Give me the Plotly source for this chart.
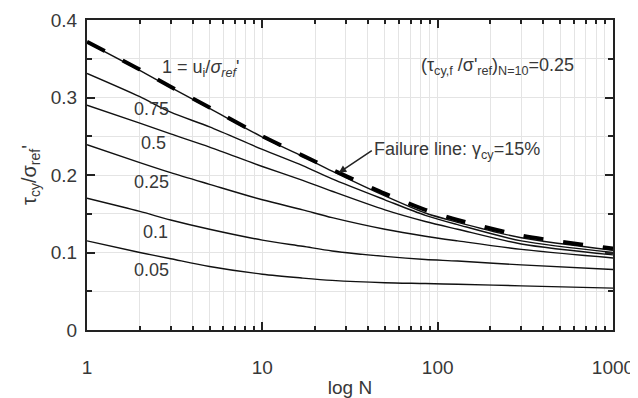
import plotly.graph_objects as go

# Number of cycles
N = [1, 2, 3, 5, 10, 17, 25, 50, 85, 130, 300, 1000]

# tau_cy / sigma'_ref curves for u_i/sigma'_ref values
failure = [0.372, 0.336, 0.314, 0.287, 0.250, 0.225, 0.207, 0.176, 0.155, 0.142, 0.122, 0.105]
u100 = [0.371, 0.335, 0.313, 0.286, 0.249, 0.224, 0.205, 0.173, 0.151, 0.139, 0.119, 0.103]
u075 = [0.331, 0.301, 0.281, 0.262, 0.233, 0.212, 0.195, 0.168, 0.148, 0.136, 0.115, 0.100]
u050 = [0.290, 0.267, 0.253, 0.236, 0.211, 0.193, 0.179, 0.155, 0.140, 0.130, 0.111, 0.097]
u025 = [0.239, 0.216, 0.203, 0.188, 0.168, 0.155, 0.145, 0.130, 0.121, 0.115, 0.104, 0.093]
u010 = [0.170, 0.153, 0.142, 0.130, 0.116, 0.108, 0.102, 0.095, 0.091, 0.089, 0.084, 0.078]
u005 = [0.115, 0.100, 0.092, 0.082, 0.072, 0.067, 0.064, 0.061, 0.060, 0.059, 0.057, 0.054]

curve_labels = ["1 = u<sub>i</sub>/<i>σ</i><sub><i>ref</i></sub>'", "0.75", "0.5", "0.25", "0.1", "0.05"]
label_x = [0.65, 0.365, 0.38, 0.365, 0.39, 0.37]
label_y = [0.338, 0.285, 0.241, 0.191, 0.127, 0.078]

x_ticks = [1, 10, 100, 1000]
x_ticktext = ["1", "10", "100", "1000"]
y_ticks = [0, 0.1, 0.2, 0.3, 0.4]
y_ticktext = ["0", "0.1", "0.2", "0.3", "0.4"]

FONT = "Liberation Sans, Arial, sans-serif"
TXT = "#383838"

fig = go.Figure()
for ys in [u100, u075, u050, u025, u010, u005]:
    fig.add_trace(go.Scatter(x=N, y=ys, mode="lines",
                             line=dict(color="#111", width=1.4, shape="spline", smoothing=0.8),
                             showlegend=False, hoverinfo="skip"))
fig.add_trace(go.Scatter(x=N, y=failure, mode="lines",
                         line=dict(color="black", width=4, dash="20px,20px", shape="spline", smoothing=0.8),
                         showlegend=False, hoverinfo="skip"))

for t, lx, ly in zip(curve_labels, label_x, label_y):
    fig.add_annotation(x=lx, y=ly, text=t, showarrow=False, font=dict(size=18, color=TXT, family=FONT))

fig.add_annotation(x=2.34, y=0.340, showarrow=False,
                   text="(τ<sub>cy,f</sub> /σ'<sub>ref</sub>)<sub>N=10</sub>=0.25",
                   font=dict(size=18, color=TXT, family=FONT))
fig.add_annotation(x=1.436, y=0.203, text="Failure line: γ<sub>cy</sub>=15%",
                   showarrow=True, arrowhead=2, arrowsize=1, arrowwidth=1.5, arrowcolor="#222",
                   ax=33, ay=-22, xanchor="left", yanchor="middle",
                   font=dict(size=18, color=TXT, family=FONT))

axis_common = dict(showline=True, linecolor="#222", linewidth=2, mirror="ticks",
                   ticks="inside", tickcolor="#222", ticklen=8, tickwidth=1.5,
                   gridcolor="#e4e4e4", gridwidth=1, zeroline=False, automargin=False,
                   tickfont=dict(size=19, color=TXT, family=FONT))

fig.update_xaxes(type="log", range=[0, 3], tickvals=x_ticks, ticktext=x_ticktext, ticklabelstandoff=19,
                 minor=dict(ticks="inside", ticklen=4, tickcolor="#222", showgrid=True, gridcolor="#e4e4e4",
                            tickvals=[m * d for d in [1, 10, 100] for m in range(2, 10)]),
                 title=dict(text="log N", font=dict(size=19, color=TXT, family=FONT), standoff=6),
                 **axis_common)
fig.update_yaxes(range=[0, 0.4], tickvals=y_ticks, ticktext=y_ticktext, ticklabelstandoff=4,
                 minor=dict(ticks="inside", ticklen=5, tickcolor="#222", showgrid=True, gridcolor="#e4e4e4",
                            tickvals=[0.05, 0.15, 0.25, 0.35]),
                 title=dict(text="τ<sub>cy</sub>/σ<sub>ref</sub>'", font=dict(size=20, color=TXT, family=FONT), standoff=9),
                 **axis_common)

# the page body adds an 8px margin, so the figure is 8px smaller and its margins shifted
fig.update_layout(width=630, height=390, margin=dict(l=79, r=25, t=12, b=68),
                  plot_bgcolor="white", paper_bgcolor="white", showlegend=False)

fig.write_html("out.html")
